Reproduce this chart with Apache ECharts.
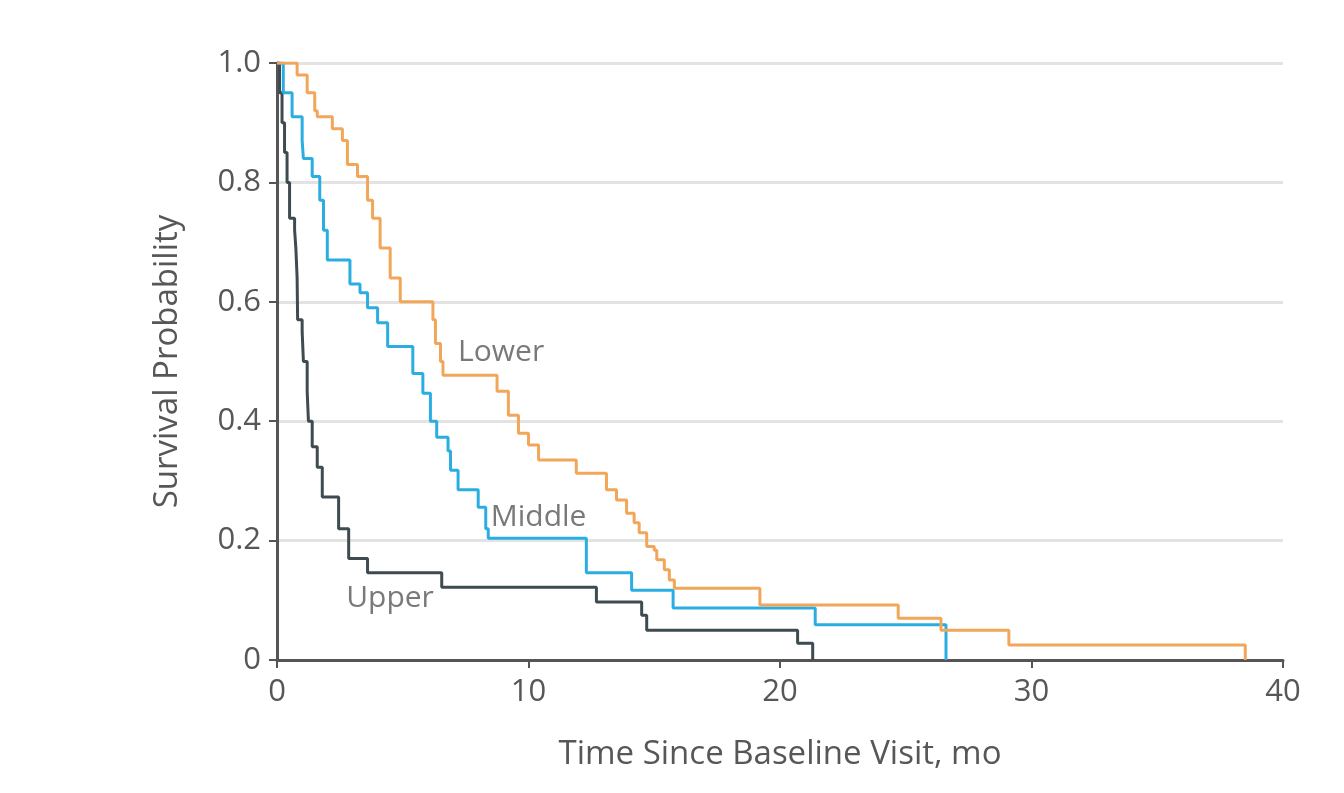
<!DOCTYPE html>
<html>
<head>
<meta charset="utf-8">
<script src="https://cdn.jsdelivr.net/npm/echarts@6/dist/echarts.min.js"></script>
<style>
html, body { margin: 0; padding: 0; background: #fff; }
#main { width: 1344px; height: 793px; }
</style>
</head>
<body>
<div id="main"></div>
<script>
// Kaplan-Meier steps: [time in months, survival from that time on]
var lower = [
  [0, 1.0], [0.8, 0.98], [1.2, 0.95], [1.5, 0.92], [1.6, 0.91], [2.2, 0.89],
  [2.6, 0.87], [2.8, 0.83], [3.2, 0.81], [3.6, 0.77], [3.8, 0.74], [4.1, 0.69],
  [4.5, 0.64], [4.9, 0.60], [6.2, 0.57], [6.3, 0.53], [6.5, 0.50], [6.6, 0.477],
  [8.75, 0.45], [9.2, 0.41], [9.6, 0.38], [10.0, 0.36], [10.4, 0.335],
  [11.9, 0.313], [13.1, 0.285], [13.5, 0.268], [13.9, 0.246], [14.2, 0.23],
  [14.4, 0.213], [14.7, 0.19], [15.0, 0.184], [15.1, 0.168], [15.4, 0.151],
  [15.6, 0.134], [15.8, 0.12], [19.2, 0.092], [24.7, 0.07], [26.4, 0.05],
  [29.1, 0.025], [38.5, 0]
];
var middle = [
  [0, 1.0], [0.25, 0.95], [0.6, 0.91], [1.0, 0.87], [1.05, 0.84], [1.4, 0.81],
  [1.7, 0.77], [1.85, 0.72], [2.0, 0.67], [2.9, 0.63], [3.3, 0.615], [3.6, 0.59],
  [4.0, 0.565], [4.4, 0.525], [5.4, 0.48], [5.8, 0.447], [6.1, 0.40],
  [6.35, 0.373], [6.8, 0.35], [6.9, 0.318], [7.2, 0.285], [8.0, 0.256],
  [8.3, 0.22], [8.4, 0.204], [12.3, 0.146], [14.1, 0.117], [15.75, 0.087],
  [21.4, 0.059], [26.6, 0]
];
var upper = [
  [0, 1.0], [0.1, 0.95], [0.2, 0.9], [0.3, 0.85], [0.4, 0.80], [0.5, 0.74],
  [0.7, 0.72], [0.75, 0.69], [0.8, 0.64], [0.82, 0.57], [1.0, 0.55], [1.05, 0.50],
  [1.2, 0.45], [1.25, 0.40], [1.4, 0.357], [1.6, 0.323], [1.8, 0.273],
  [2.45, 0.22], [2.85, 0.17], [3.6, 0.146], [6.55, 0.122], [12.7, 0.097],
  [14.5, 0.075], [14.7, 0.05], [20.7, 0.028], [21.3, 0]
];
var curveNames = ['Lower', 'Middle', 'Upper'];
var curveColors = ['#f2a65a', '#2aaee2', '#3e4b50'];
// where the name of each curve sits: [x, y]
var namePos = [[7.2, 0.515], [8.5, 0.238], [2.75, 0.103]];
var xTicks = [0, 10, 20, 30, 40];
var yTicks = [0, 0.2, 0.4, 0.6, 0.8, 1.0];

var font = 'Open Sans';
var axisGray = '#555';
var textGray = '#575757';

var series = [];
var datas = [lower, middle, upper];
for (var i in datas) {
  series.push({
    name: curveNames[i],
    type: 'line',
    step: 'end',
    showSymbol: false,
    silent: true,
    data: datas[i],
    lineStyle: { color: curveColors[i], width: 3 },
    z: 3 + (2 - i)
  });
}
series.push({
  type: 'scatter',
  symbolSize: 0,
  silent: true,
  data: namePos.map(function (p, k) {
    return { value: p, name: curveNames[k] };
  }),
  label: {
    show: true,
    position: 'right',
    distance: 0,
    formatter: '{b}',
    color: textGray,
    fontFamily: font,
    fontSize: 30
  }
});

var myChart = echarts.init(document.getElementById('main'));
myChart.setOption({
  backgroundColor: '#fff',
  animation: false,
  grid: { left: 277, right: 61, top: 63, bottom: 133 },
  xAxis: {
    type: 'value',
    min: xTicks[0],
    max: xTicks[xTicks.length - 1],
    interval: 10,
    name: 'Time Since Baseline Visit, mo',
    nameLocation: 'middle',
    nameGap: 78,
    nameTextStyle: { color: textGray, fontFamily: font, fontSize: 33 },
    axisLine: { lineStyle: { color: axisGray, width: 3 } },
    axisTick: { show: true, length: 8, lineStyle: { color: axisGray, width: 2 } },
    axisLabel: { color: textGray, fontFamily: font, fontSize: 31, margin: 17 },
    splitLine: { show: false }
  },
  yAxis: {
    type: 'value',
    min: yTicks[0],
    max: yTicks[yTicks.length - 1],
    interval: 0.2,
    name: 'Survival Probability',
    nameLocation: 'middle',
    nameGap: 93,
    nameTextStyle: { color: textGray, fontFamily: font, fontSize: 33 },
    axisLine: { show: true, lineStyle: { color: axisGray, width: 3 } },
    axisTick: { show: true, length: 8, lineStyle: { color: axisGray, width: 2 } },
    axisLabel: {
      color: textGray, fontFamily: font, fontSize: 31, margin: 16,
      formatter: function (v) { return v === 0 ? '0' : v.toFixed(1); }
    },
    splitLine: { show: true, lineStyle: { color: '#e3e3e3', width: 3 } }
  },
  series: series
});
</script>
</body>
</html>
